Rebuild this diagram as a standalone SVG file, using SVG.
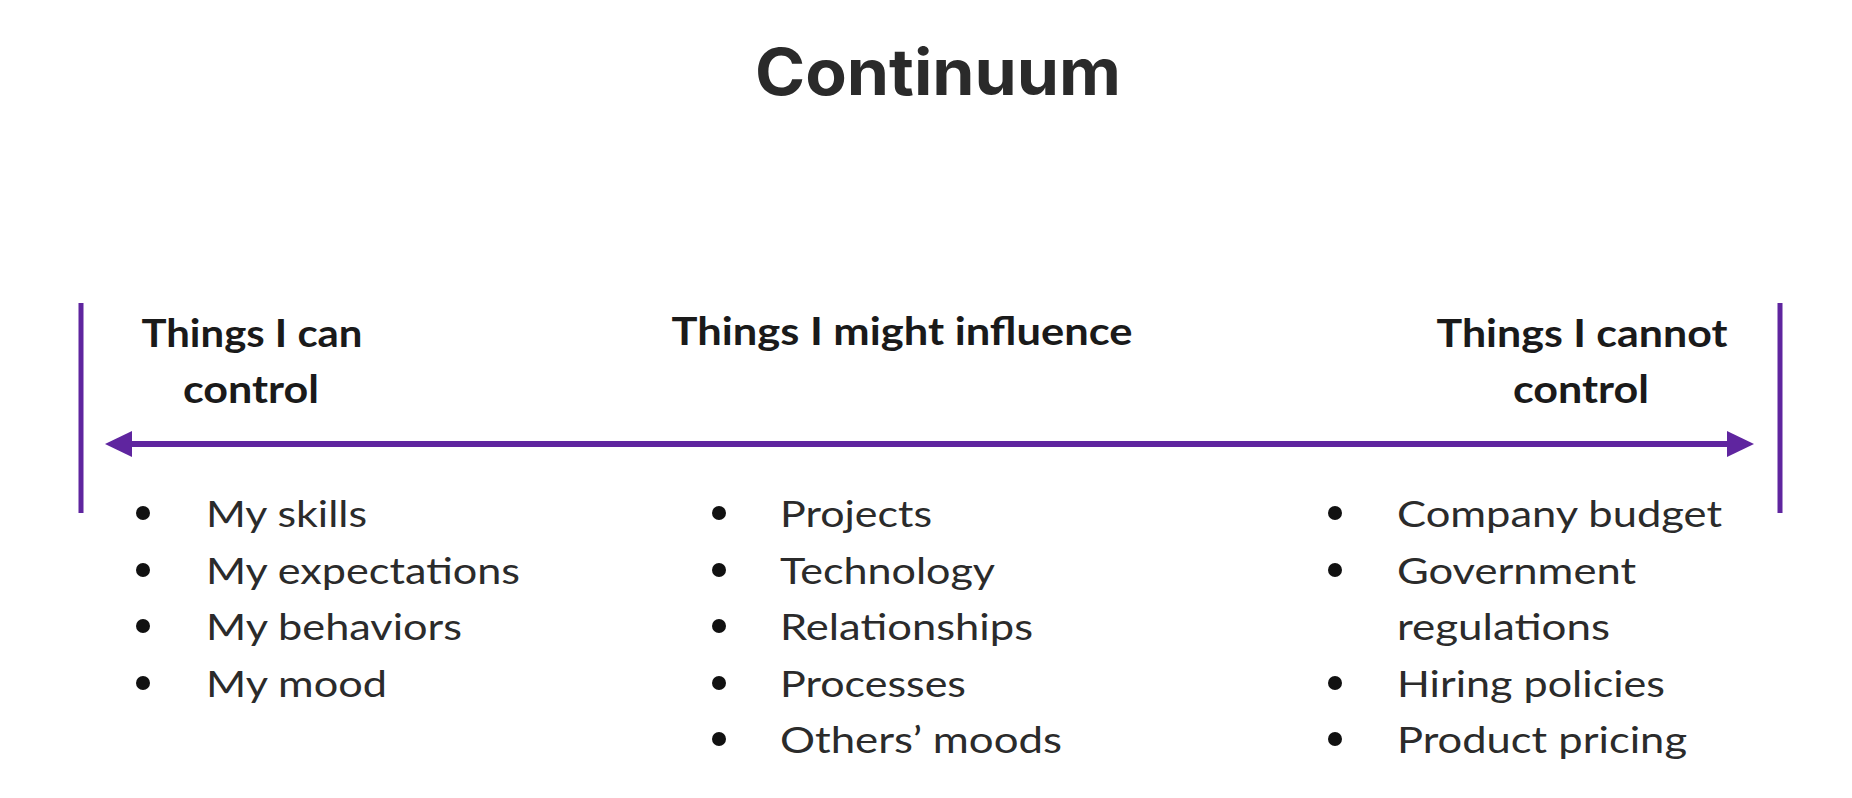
<svg xmlns="http://www.w3.org/2000/svg" width="1852" height="798" viewBox="0 0 1852 798">
  <style>
    .title { font-family: Inter, "Open Sans", "Liberation Sans", sans-serif; font-weight: 700; font-size: 64px; fill: #2a2a2a; }
    .head { font-family: Lato, "Open Sans", "Liberation Sans", sans-serif; font-weight: 700; font-size: 39px; fill: #1a1a1a; }
    .item { font-family: Lato, "Open Sans", "Liberation Sans", sans-serif; font-weight: 400; font-size: 37px; fill: #2b2b2b; }
    .bullet { fill: #111111; }
    .bar { stroke: #5f259f; stroke-width: 5; fill: none; }
    .axis { stroke: #5f259f; stroke-width: 6; fill: none; }
  </style>
  <defs>
    <marker id="ah" viewBox="0 0 27 26" refX="19" refY="13" markerWidth="27" markerHeight="26" markerUnits="userSpaceOnUse" orient="auto-start-reverse">
      <path d="M0,0 L27,13 L0,26 Z" fill="#5f259f"/>
    </marker>
  </defs>
  <rect width="1852" height="798" fill="#ffffff"/>

  <g id="title">
    <text class="title" x="938" y="95" text-anchor="middle" textLength="366" lengthAdjust="spacingAndGlyphs">Continuum</text>
  </g>

  <g id="connectors">
    <line class="bar" x1="81" y1="303" x2="81" y2="513"/>
    <line class="bar" x1="1780" y1="303" x2="1780" y2="513"/>
    <line class="axis" x1="113" y1="444" x2="1746" y2="444" marker-start="url(#ah)" marker-end="url(#ah)"/>
  </g>

  <g id="can-control">
    <text class="head" x="252" y="347" text-anchor="middle" textLength="221" lengthAdjust="spacingAndGlyphs">Things I can</text>
    <text class="head" x="251" y="403" text-anchor="middle" textLength="136" lengthAdjust="spacingAndGlyphs">control</text>
    <circle class="bullet" cx="143" cy="513" r="7"/>
    <circle class="bullet" cx="143" cy="570" r="7"/>
    <circle class="bullet" cx="143" cy="626" r="7"/>
    <circle class="bullet" cx="143" cy="683" r="7"/>
    <text class="item" x="206" y="527" textLength="161" lengthAdjust="spacingAndGlyphs">My skills</text>
    <text class="item" x="206" y="584" textLength="314" lengthAdjust="spacingAndGlyphs">My expectations</text>
    <text class="item" x="206" y="640" textLength="256" lengthAdjust="spacingAndGlyphs">My behaviors</text>
    <text class="item" x="206" y="697" textLength="181" lengthAdjust="spacingAndGlyphs">My mood</text>
  </g>

  <g id="might-influence">
    <text class="head" x="902" y="345" text-anchor="middle" textLength="461" lengthAdjust="spacingAndGlyphs">Things I might influence</text>
    <circle class="bullet" cx="719" cy="513" r="7"/>
    <circle class="bullet" cx="719" cy="570" r="7"/>
    <circle class="bullet" cx="719" cy="626" r="7"/>
    <circle class="bullet" cx="719" cy="683" r="7"/>
    <circle class="bullet" cx="719" cy="739" r="7"/>
    <text class="item" x="780" y="527" textLength="152" lengthAdjust="spacingAndGlyphs">Projects</text>
    <text class="item" x="780" y="584" textLength="215" lengthAdjust="spacingAndGlyphs">Technology</text>
    <text class="item" x="780" y="640" textLength="253" lengthAdjust="spacingAndGlyphs">Relationships</text>
    <text class="item" x="780" y="697" textLength="186" lengthAdjust="spacingAndGlyphs">Processes</text>
    <text class="item" x="780" y="753" textLength="282" lengthAdjust="spacingAndGlyphs">Others’ moods</text>
  </g>

  <g id="cannot-control">
    <text class="head" x="1582" y="347" text-anchor="middle" textLength="291" lengthAdjust="spacingAndGlyphs">Things I cannot</text>
    <text class="head" x="1581" y="403" text-anchor="middle" textLength="136" lengthAdjust="spacingAndGlyphs">control</text>
    <circle class="bullet" cx="1335" cy="513" r="7"/>
    <circle class="bullet" cx="1335" cy="570" r="7"/>
    <circle class="bullet" cx="1335" cy="683" r="7"/>
    <circle class="bullet" cx="1335" cy="739" r="7"/>
    <text class="item" x="1397" y="527" textLength="325" lengthAdjust="spacingAndGlyphs">Company budget</text>
    <text class="item" x="1397" y="584" textLength="239" lengthAdjust="spacingAndGlyphs">Government</text>
    <text class="item" x="1397" y="640" textLength="213" lengthAdjust="spacingAndGlyphs">regulations</text>
    <text class="item" x="1397" y="697" textLength="268" lengthAdjust="spacingAndGlyphs">Hiring policies</text>
    <text class="item" x="1397" y="753" textLength="290" lengthAdjust="spacingAndGlyphs">Product pricing</text>
  </g>
</svg>
